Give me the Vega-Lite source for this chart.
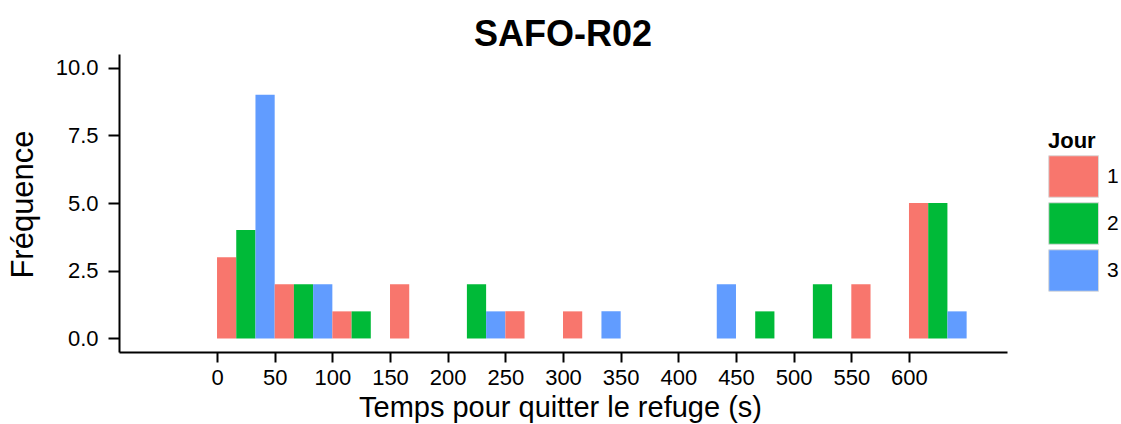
{
  "$schema": "https://vega.github.io/schema/vega-lite/v6.json",
  "width": 888,
  "height": 298,
  "autosize": "none",
  "padding": {"left": 119, "top": 54, "right": 114, "bottom": 72},
  "background": "white",
  "title": {"text": "SAFO-R02", "anchor": "middle", "font": "Liberation Sans", "fontSize": 36, "fontWeight": "bold", "color": "black", "baseline": "alphabetic", "offset": 8, "dy": 36},
  "config": {
    "view": {"stroke": null},
    "font": "Liberation Sans"
  },
  "data": {
    "values": [
      {"bin": 0, "jour": "1", "count": 3},
      {"bin": 0, "jour": "2", "count": 4},
      {"bin": 0, "jour": "3", "count": 9},
      {"bin": 50, "jour": "1", "count": 2},
      {"bin": 50, "jour": "2", "count": 2},
      {"bin": 50, "jour": "3", "count": 2},
      {"bin": 100, "jour": "1", "count": 1},
      {"bin": 100, "jour": "2", "count": 1},
      {"bin": 150, "jour": "1", "count": 2},
      {"bin": 200, "jour": "2", "count": 2},
      {"bin": 200, "jour": "3", "count": 1},
      {"bin": 250, "jour": "1", "count": 1},
      {"bin": 300, "jour": "1", "count": 1},
      {"bin": 300, "jour": "3", "count": 1},
      {"bin": 400, "jour": "3", "count": 2},
      {"bin": 450, "jour": "2", "count": 1},
      {"bin": 500, "jour": "2", "count": 2},
      {"bin": 550, "jour": "1", "count": 2},
      {"bin": 600, "jour": "1", "count": 5},
      {"bin": 600, "jour": "2", "count": 5},
      {"bin": 600, "jour": "3", "count": 1}
    ]
  },
  "transform": [
    {"calculate": "datum.bin + (toNumber(datum.jour) - 1) * 50 / 3", "as": "x0"},
    {"calculate": "datum.x0 + 50 / 3", "as": "x1"}
  ],
  "mark": {"type": "bar"},
  "encoding": {
    "x": {
      "field": "x0", "type": "quantitative",
      "scale": {"domain": [-85, 685], "nice": false, "zero": false},
      "axis": {
        "title": "Temps pour quitter le refuge (s)",
        "values": [0, 50, 100, 150, 200, 250, 300, 350, 400, 450, 500, 550, 600],
        "format": "d",
        "grid": false,
        "domainColor": "black", "domainWidth": 2,
        "tickColor": "black", "tickWidth": 2, "tickSize": 10,
        "labelFont": "Liberation Sans", "labelFontSize": 22, "labelColor": "black",
        "labelBaseline": "alphabetic", "labelPadding": 22,
        "labelFlush": false, "labelOverlap": false,
        "titleFont": "Liberation Sans", "titleFontSize": 29, "titleFontWeight": "normal", "titleColor": "black",
        "titleBaseline": "alphabetic", "titleX": 441, "titleY": 64, "titleAlign": "center"
      }
    },
    "x2": {"field": "x1"},
    "y": {
      "field": "count", "type": "quantitative",
      "scale": {"domain": [-0.5, 10.5], "nice": false, "zero": false},
      "axis": {
        "title": "Fréquence",
        "values": [0, 2.5, 5, 7.5, 10],
        "format": ".1f",
        "grid": false,
        "domainColor": "black", "domainWidth": 2,
        "tickColor": "black", "tickWidth": 2, "tickSize": 11,
        "labelFont": "Liberation Sans", "labelFontSize": 22, "labelColor": "black",
        "labelPadding": 10, "labelFlush": false, "labelOverlap": false,
        "titleFont": "Liberation Sans", "titleFontSize": 31, "titleFontWeight": "normal", "titleColor": "black",
        "titleAngle": -90, "titleBaseline": "alphabetic", "titleAlign": "center", "titleX": -87, "titleY": 150
      }
    },
    "y2": {"datum": 0},
    "color": {
      "field": "jour", "type": "nominal",
      "scale": {"domain": ["1", "2", "3"], "range": ["#F8766D", "#00BA38", "#619CFF"]},
      "legend": {
        "title": "Jour",
        "orient": "none",
        "legendX": 929,
        "legendY": 77,
        "padding": 0,
        "titleFont": "Liberation Sans", "titleFontSize": 22, "titleFontWeight": "bold", "titleColor": "black",
        "titlePadding": 2,
        "labelFont": "Liberation Sans", "labelFontSize": 21, "labelColor": "black",
        "labelOffset": 16,
        "symbolType": "M-1,-1H1.4V1H-1Z",
        "symbolSize": 1722,
        "symbolStrokeColor": "#d9d9d9",
        "symbolStrokeWidth": 1,
        "symbolOpacity": 1,
        "rowPadding": 0
      }
    }
  }
}
